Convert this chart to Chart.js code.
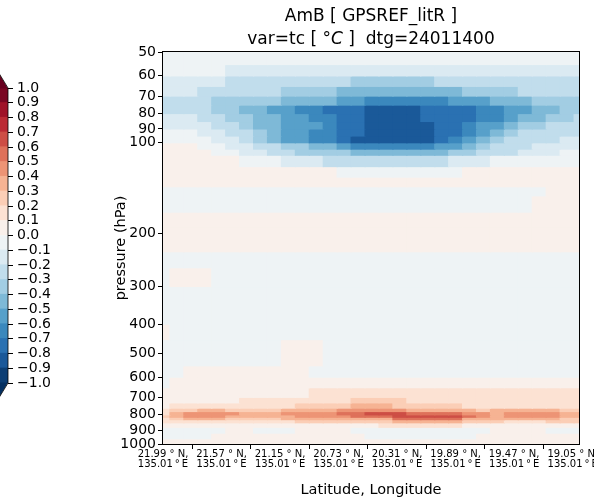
<!DOCTYPE html>
<html>
<head>
<meta charset="utf-8">
<script src="https://cdn.jsdelivr.net/npm/chart.js@4.4.1/dist/chart.umd.min.js"></script>
<style>
  html, body { margin: 0; padding: 0; background: #fff; overflow: hidden; }
  #wrap { position: relative; width: 594px; height: 499px; }
  #main { position: absolute; left: 0; top: 0; }
  #cbar { position: absolute; left: -14px; top: 0; }
</style>
</head>
<body>
<div id="wrap">
  <canvas id="main" width="594" height="499"></canvas>
  <canvas id="cbar" width="70" height="499"></canvas>
</div>
<script>
// columns along the track (deg N), all at 135.01 E
var latitudes = [21.99, 21.89, 21.79, 21.69, 21.59, 21.49, 21.39, 21.29, 21.19, 21.09, 20.99,
  20.89, 20.79, 20.69, 20.59, 20.49, 20.39, 20.29, 20.19, 20.09, 19.99, 19.89, 19.79, 19.69,
  19.59, 19.49, 19.39, 19.29, 19.19, 19.09, 18.99];

// layer edges (hPa), row r of tc lies between pressureEdges[r] and pressureEdges[r+1]
var pressureEdges = [50, 55, 60, 65, 70, 75, 80, 85, 90, 95, 100, 105, 110, 120, 130, 140, 150,
  170, 190, 210, 230, 260, 300, 350, 400, 450, 500, 550, 600, 650, 700, 730, 760, 780, 800, 815,
  830, 850, 880, 920, 960, 1000];

var pressureTicks = [50, 60, 70, 80, 90, 100, 200, 300, 400, 500, 600, 700, 800, 900, 1000];
var latTicks = [21.99, 21.57, 21.15, 20.73, 20.31, 19.89, 19.47, 19.05];
var lonLabel = '135.01';
var levels = [-1.0, -0.9, -0.8, -0.7, -0.6, -0.5, -0.4, -0.3, -0.2, -0.1, 0.0,
  0.1, 0.2, 0.3, 0.4, 0.5, 0.6, 0.7, 0.8, 0.9, 1.0];

// temperature difference A-B (deg C)
var tc = [
  [-.05,-.05,-.05,-.05,-.05,-.05,-.05,-.05,-.05,-.05,-.05,-.05,-.05,-.05,-.05,-.05,-.05,-.05,-.05,-.05,-.05,-.05,-.05,-.05,-.05,-.05,-.05,-.05,-.05,-.05,-.05],
  [-.05,-.05,-.05,-.05,-.05,-.15,-.15,-.15,-.15,-.15,-.15,-.15,-.15,-.15,-.15,-.15,-.15,-.15,-.15,-.15,-.15,-.15,-.15,-.15,-.15,-.15,-.15,-.15,-.15,-.15,-.15],
  [-.15,-.15,-.15,-.15,-.15,-.25,-.25,-.25,-.25,-.25,-.25,-.25,-.25,-.25,-.35,-.35,-.35,-.35,-.35,-.35,-.25,-.25,-.25,-.25,-.25,-.25,-.25,-.25,-.25,-.25,-.25],
  [-.15,-.15,-.15,-.25,-.25,-.25,-.25,-.25,-.25,-.35,-.35,-.35,-.35,-.45,-.45,-.45,-.45,-.45,-.45,-.45,-.45,-.45,-.35,-.35,-.35,-.35,-.25,-.25,-.25,-.25,-.25],
  [-.25,-.25,-.25,-.25,-.35,-.35,-.35,-.35,-.35,-.45,-.45,-.45,-.45,-.55,-.55,-.65,-.65,-.65,-.65,-.65,-.65,-.55,-.55,-.55,-.45,-.45,-.45,-.35,-.35,-.35,-.35],
  [-.25,-.25,-.25,-.25,-.35,-.35,-.45,-.45,-.55,-.55,-.65,-.65,-.75,-.75,-.75,-.85,-.85,-.85,-.85,-.75,-.75,-.75,-.75,-.65,-.65,-.55,-.55,-.45,-.45,-.35,-.35],
  [-.15,-.15,-.15,-.25,-.25,-.35,-.35,-.45,-.45,-.55,-.55,-.65,-.65,-.75,-.75,-.85,-.85,-.85,-.85,-.75,-.75,-.75,-.75,-.65,-.65,-.55,-.45,-.45,-.35,-.35,-.25],
  [-.15,-.15,-.15,-.15,-.25,-.25,-.35,-.45,-.45,-.55,-.55,-.55,-.65,-.75,-.75,-.85,-.85,-.85,-.85,-.85,-.75,-.75,-.65,-.55,-.55,-.45,-.35,-.35,-.25,-.25,-.25],
  [-.05,-.05,-.05,-.15,-.15,-.25,-.25,-.35,-.45,-.55,-.55,-.65,-.65,-.75,-.75,-.85,-.85,-.85,-.85,-.85,-.75,-.75,-.65,-.55,-.45,-.35,-.25,-.25,-.25,-.25,-.25],
  [-.05,-.05,-.05,-.05,-.15,-.15,-.25,-.35,-.45,-.55,-.55,-.65,-.65,-.75,-.85,-.85,-.85,-.85,-.85,-.85,-.75,-.65,-.55,-.45,-.35,-.25,-.25,-.25,-.25,-.15,-.15],
  [.05,.05,.05,-.05,-.05,-.15,-.15,-.25,-.25,-.35,-.35,-.45,-.45,-.55,-.65,-.65,-.65,-.65,-.65,-.65,-.55,-.55,-.45,-.35,-.25,-.25,-.25,-.15,-.15,-.15,-.15],
  [.05,.05,.05,.05,-.05,-.05,-.15,-.15,-.25,-.25,-.35,-.35,-.35,-.35,-.45,-.45,-.45,-.45,-.45,-.45,-.45,-.35,-.35,-.25,-.25,-.25,-.15,-.15,-.15,-.05,-.05],
  [.05,.05,.05,.05,.05,.05,-.05,-.05,-.05,-.15,-.15,-.15,-.25,-.25,-.25,-.25,-.25,-.25,-.25,-.25,-.25,-.15,-.15,-.15,-.05,-.05,-.05,-.05,-.05,-.05,-.05],
  [.05,.05,.05,.05,.05,.05,.05,.05,.05,.05,.05,.05,.05,-.05,-.05,-.05,-.05,-.05,-.05,-.05,-.05,-.05,.05,.05,.05,.05,.05,.05,.05,.05,.05],
  [.05,.05,.05,.05,.05,.05,.05,.05,.05,.05,.05,.05,.05,.05,.05,.05,.05,.05,.05,.05,.05,.05,.05,.05,.05,.05,.05,.05,.05,.05,.05],
  [-.05,-.05,-.05,-.05,-.05,-.05,-.05,-.05,-.05,-.05,-.05,-.05,-.05,-.05,-.05,-.05,-.05,-.05,-.05,-.05,-.05,-.05,-.05,-.05,-.05,-.05,-.05,-.05,.05,.05,.05],
  [-.05,-.05,-.05,-.05,-.05,-.05,-.05,-.05,-.05,-.05,-.05,-.05,-.05,-.05,-.05,-.05,-.05,-.05,-.05,-.05,-.05,-.05,-.05,-.05,-.05,-.05,-.05,.05,.05,.05,.05],
  [.05,.05,.05,.05,.05,.05,.05,.05,.05,.05,.05,.05,.05,.05,.05,.05,.05,.05,.05,.05,.05,.05,.05,.05,.05,.05,.05,.05,.05,.05,.05],
  [.05,.05,.05,.05,.05,.05,.05,.05,.05,.05,.05,.05,.05,.05,.05,.05,.05,.05,.05,.05,.05,.05,.05,.05,.05,.05,.05,.05,.05,.05,.05],
  [.05,.05,.05,.05,.05,.05,.05,.05,.05,.05,.05,.05,.05,.05,.05,.05,.05,.05,.05,.05,.05,.05,.05,.05,.05,.05,.05,.05,.05,.05,.05],
  [-.05,-.05,-.05,-.05,-.05,-.05,-.05,-.05,-.05,-.05,-.05,-.05,-.05,-.05,-.05,-.05,-.05,-.05,-.05,-.05,-.05,-.05,-.05,-.05,-.05,-.05,-.05,-.05,-.05,-.05,-.05],
  [-.05,.05,.05,.05,-.05,-.05,-.05,-.05,-.05,-.05,-.05,-.05,-.05,-.05,-.05,-.05,-.05,-.05,-.05,-.05,-.05,-.05,-.05,-.05,-.05,-.05,-.05,-.05,-.05,-.05,-.05],
  [-.05,-.05,-.05,-.05,-.05,-.05,-.05,-.05,-.05,-.05,-.05,-.05,-.05,-.05,-.05,-.05,-.05,-.05,-.05,-.05,-.05,-.05,-.05,-.05,-.05,-.05,-.05,-.05,-.05,-.05,-.05],
  [-.05,-.05,-.05,-.05,-.05,-.05,-.05,-.05,-.05,-.05,-.05,-.05,-.05,-.05,-.05,-.05,-.05,-.05,-.05,-.05,-.05,-.05,-.05,-.05,-.05,-.05,-.05,-.05,-.05,-.05,-.05],
  [.05,-.05,-.05,-.05,-.05,-.05,-.05,-.05,-.05,-.05,-.05,-.05,-.05,-.05,-.05,-.05,-.05,-.05,-.05,-.05,-.05,-.05,-.05,-.05,-.05,-.05,-.05,-.05,-.05,-.05,-.05],
  [-.05,-.05,-.05,-.05,-.05,-.05,-.05,-.05,-.05,.05,.05,.05,-.05,-.05,-.05,-.05,-.05,-.05,-.05,-.05,-.05,-.05,-.05,-.05,-.05,-.05,-.05,-.05,-.05,-.05,-.05],
  [-.05,-.05,-.05,-.05,-.05,-.05,-.05,-.05,-.05,.05,.05,.05,-.05,-.05,-.05,-.05,-.05,-.05,-.05,-.05,-.05,-.05,-.05,-.05,-.05,-.05,-.05,-.05,-.05,-.05,-.05],
  [-.05,-.05,.05,.05,.05,.05,.05,.05,.05,.05,.05,-.05,-.05,-.05,-.05,-.05,-.05,-.05,-.05,-.05,-.05,-.05,-.05,-.05,-.05,-.05,-.05,-.05,-.05,-.05,-.05],
  [-.05,.05,.05,.05,.05,.05,.05,.05,.05,.05,.05,.05,.05,.05,.05,.05,.05,.05,.05,.05,.05,.05,.05,.05,.05,.05,.05,.05,.05,.05,.05],
  [.05,.05,.05,.05,.05,.05,.05,.05,.05,.05,.05,.15,.15,.15,.15,.15,.15,.15,.15,.15,.15,.15,.15,.15,.15,.15,.15,.15,.15,.15,.15],
  [.05,.05,.05,.05,.05,.05,.15,.15,.15,.15,.15,.15,.15,.15,.25,.25,.25,.25,.15,.15,.15,.15,.15,.15,.15,.15,.15,.15,.15,.15,.15],
  [.05,.15,.15,.15,.15,.15,.15,.15,.15,.15,.25,.25,.25,.25,.35,.35,.35,.25,.25,.25,.25,.25,.15,.15,.15,.15,.15,.15,.15,.15,.15],
  [.15,.25,.25,.35,.35,.25,.25,.25,.25,.35,.35,.35,.35,.45,.45,.45,.45,.45,.35,.35,.35,.35,.35,.25,.35,.35,.35,.35,.35,.25,.25],
  [.15,.35,.45,.45,.45,.45,.35,.35,.35,.45,.45,.45,.45,.55,.55,.65,.65,.65,.55,.55,.55,.55,.45,.45,.35,.45,.45,.45,.45,.35,.35],
  [.25,.35,.45,.45,.45,.35,.35,.35,.35,.35,.45,.45,.45,.45,.55,.55,.55,.65,.65,.65,.65,.65,.55,.45,.35,.45,.45,.45,.45,.35,.35],
  [.15,.25,.35,.35,.35,.25,.25,.25,.25,.35,.35,.35,.35,.35,.35,.35,.35,.55,.55,.55,.55,.55,.35,.35,.35,.35,.35,.35,.35,.25,.25],
  [.15,.15,.15,.15,.15,.15,.15,.15,.15,.15,.25,.25,.25,.25,.25,.25,.25,.35,.35,.35,.35,.35,.25,.25,.25,.15,.15,.15,.25,.25,.25],
  [.05,.05,.05,.05,.05,.05,.05,.05,.05,.05,.05,.05,.05,.05,.05,.05,.15,.15,.15,.15,.15,.15,.05,.05,.05,.05,.05,.05,.05,.05,.05],
  [-.05,-.05,-.05,-.05,-.05,.05,.05,-.05,-.05,-.05,.05,.05,.05,.05,-.05,-.05,-.05,-.05,-.05,-.05,-.05,-.05,-.05,-.05,.05,.05,.05,.05,-.05,-.05,-.05],
  [-.05,-.05,-.05,-.05,.05,.05,.05,.05,.05,.05,.05,.05,.05,.05,.05,-.05,-.05,-.05,-.05,-.05,-.05,-.05,-.05,.05,.05,.05,.05,.05,.05,.05,.05],
  [.05,.05,.05,.05,.05,.05,.05,.05,.05,.05,.05,.05,.05,.05,.05,.05,.05,.05,.05,.05,.05,.05,.05,.05,.05,.05,.05,.05,.05,.05,.05]
];

// RdBu_r
var rdbu = [[5,48,97],[33,102,172],[67,147,195],[146,197,222],[209,229,240],[247,247,247],
  [253,219,199],[244,165,130],[214,96,77],[178,24,43],[103,0,31]];

function colorFor(v) {
  var t = Math.max(0, Math.min(1, (v + 1) / 2)) * 10;
  var i = Math.min(9, Math.floor(t)), f = t - i;
  var a = rdbu[i], b = rdbu[i + 1];
  var c = [0, 1, 2].map(function (j) { return Math.round(a[j] + (b[j] - a[j]) * f); });
  return 'rgb(' + c.join(',') + ')';
}

function fmtLevel(v) {
  if (Math.abs(v) < 1e-9) return '0.0';
  return v.toFixed(1).replace('-', '\u2212');
}

Chart.defaults.font.family = 'DejaVu Sans';
Chart.defaults.color = '#000';

var cells = [];
for (var r = 0; r < tc.length; r++) {
  (function (r) {
    cells.push({
      data: latitudes.map(function (lat) {
        return { x: lat, y: [pressureEdges[r], pressureEdges[r + 1]] };
      }),
      backgroundColor: tc[r].map(colorFor),
      borderWidth: 0,
      grouped: false,
      barPercentage: 1,
      categoryPercentage: 1,
      inflateAmount: 0.6
    });
  })(r);
}

var framePlugin = {
  id: 'frame',
  afterDraw: function (chart) {
    var a = chart.chartArea, ctx = chart.ctx;
    ctx.save();
    ctx.strokeStyle = '#000';
    ctx.lineWidth = 1;
    ctx.strokeRect(Math.round(a.left) - 0.5, Math.round(a.top) - 0.5,
      Math.round(a.right - a.left) + 1, Math.round(a.bottom - a.top) + 1);

    // two line title, second line has an italic C
    var cx = (a.left + a.right) / 2;
    ctx.fillStyle = '#000';
    ctx.textBaseline = 'alphabetic';
    ctx.textAlign = 'center';
    ctx.font = '17px "DejaVu Sans"';
    ctx.fillText('AmB [ GPSREF_litR ]', cx, 21);
    var p1 = 'var=tc [ \u00b0', p2 = 'C', p3 = ' ]  dtg=24011400';
    ctx.font = '17px "DejaVu Sans"';
    var w1 = ctx.measureText(p1).width, w3 = ctx.measureText(p3).width;
    ctx.font = 'italic 17px "DejaVu Sans"';
    var w2 = ctx.measureText(p2).width;
    var x0 = cx - (w1 + w2 + w3) / 2;
    ctx.textAlign = 'left';
    ctx.font = '17px "DejaVu Sans"';
    ctx.fillText(p1, x0, 43.5);
    ctx.font = 'italic 17px "DejaVu Sans"';
    ctx.fillText(p2, x0 + w1, 43.5);
    ctx.font = '17px "DejaVu Sans"';
    ctx.fillText(p3, x0 + w1 + w2, 43.5);
    ctx.restore();
  }
};

new Chart(document.getElementById('main'), {
  type: 'bar',
  data: { datasets: cells },
  options: {
    responsive: false,
    animation: false,
    events: [],
    layout: { padding: { left: 113, right: 15, top: 52, bottom: 0 } },
    plugins: { legend: { display: false }, tooltip: { enabled: false } },
    scales: {
      x: {
        type: 'linear',
        reverse: true,
        min: 19.005,
        max: 21.99,
        offset: false,
        afterBuildTicks: function (s) {
          s.ticks = latTicks.map(function (v) { return { value: v }; });
        },
        afterFit: function (s) {
          s.height = 55;
          s.paddingLeft = 0;
          s.paddingRight = 0;
        },
        ticks: {
          autoSkip: false,
          maxRotation: 0,
          minRotation: 0,
          padding: 0,
          font: { size: 10, lineHeight: 1.05 },
          callback: function (v) {
            return [v.toFixed(2) + ' \u00b0 N,', lonLabel + '\u2009\u00b0\u2009E'];
          }
        },
        grid: { display: true, drawOnChartArea: false, tickLength: 5, color: '#000' },
        border: { display: true, color: '#000' },
        title: {
          display: true,
          text: 'Latitude, Longitude',
          font: { size: 14.5 },
          padding: { top: 0, bottom: 0 }
        }
      },
      y: {
        type: 'logarithmic',
        reverse: true,
        min: 50,
        max: 1000,
        beginAtZero: false,
        afterBuildTicks: function (s) {
          s.ticks = pressureTicks.map(function (v) { return { value: v }; });
        },
        afterFit: function (s) { s.width = 50; },
        ticks: {
          autoSkip: false,
          padding: 2,
          font: { size: 14 },
          callback: function (v) { return String(v); }
        },
        grid: { display: true, drawOnChartArea: false, tickLength: 5, color: '#000' },
        border: { display: true, color: '#000' },
        title: {
          display: true,
          text: 'pressure (hPa)',
          font: { size: 14.5 },
          padding: { top: 0, bottom: 0 }
        }
      }
    }
  },
  plugins: [framePlugin]
});

// colorbar
var bands = [];
for (var i = 0; i < levels.length - 1; i++) {
  bands.push({
    data: [[levels[i], levels[i + 1]]],
    backgroundColor: colorFor((levels[i] + levels[i + 1]) / 2),
    borderWidth: 0,
    grouped: false,
    barPercentage: 1,
    categoryPercentage: 1,
    inflateAmount: 0.6
  });
}

var extendPlugin = {
  id: 'extend',
  afterDatasetsDraw: function (chart) {
    var a = chart.chartArea, ctx = chart.ctx;
    var cx = (a.left + a.right) / 2, h = 18;
    ctx.save();
    ctx.fillStyle = colorFor(1.5);
    ctx.beginPath();
    ctx.moveTo(a.left, a.top + 0.5);
    ctx.lineTo(a.right, a.top + 0.5);
    ctx.lineTo(cx, a.top - h);
    ctx.closePath();
    ctx.fill();
    ctx.fillStyle = colorFor(-1.5);
    ctx.beginPath();
    ctx.moveTo(a.left, a.bottom - 0.5);
    ctx.lineTo(a.right, a.bottom - 0.5);
    ctx.lineTo(cx, a.bottom + h);
    ctx.closePath();
    ctx.fill();
    ctx.strokeStyle = '#000';
    ctx.lineWidth = 0.8;
    ctx.beginPath();
    ctx.moveTo(cx, a.top - h);
    ctx.lineTo(a.right, a.top);
    ctx.lineTo(a.right, a.bottom);
    ctx.lineTo(cx, a.bottom + h);
    ctx.lineTo(a.left, a.bottom);
    ctx.lineTo(a.left, a.top);
    ctx.closePath();
    ctx.stroke();
    ctx.restore();
  }
};

new Chart(document.getElementById('cbar'), {
  type: 'bar',
  data: { labels: [''], datasets: bands },
  options: {
    responsive: false,
    animation: false,
    events: [],
    layout: { padding: { left: 0, right: 0, top: 88, bottom: 116 } },
    plugins: { legend: { display: false }, tooltip: { enabled: false } },
    scales: {
      x: { display: false },
      y: {
        position: 'right',
        min: -1,
        max: 1,
        afterBuildTicks: function (s) {
          s.ticks = levels.map(function (v) { return { value: v }; });
        },
        afterFit: function (s) { s.width = 48; },
        ticks: {
          autoSkip: false,
          padding: 4,
          font: { size: 14 },
          callback: function (v) { return fmtLevel(v); }
        },
        grid: { display: true, drawOnChartArea: false, tickLength: 5, color: '#000' },
        border: { display: false }
      }
    }
  },
  plugins: [extendPlugin]
});
</script>
</body>
</html>
